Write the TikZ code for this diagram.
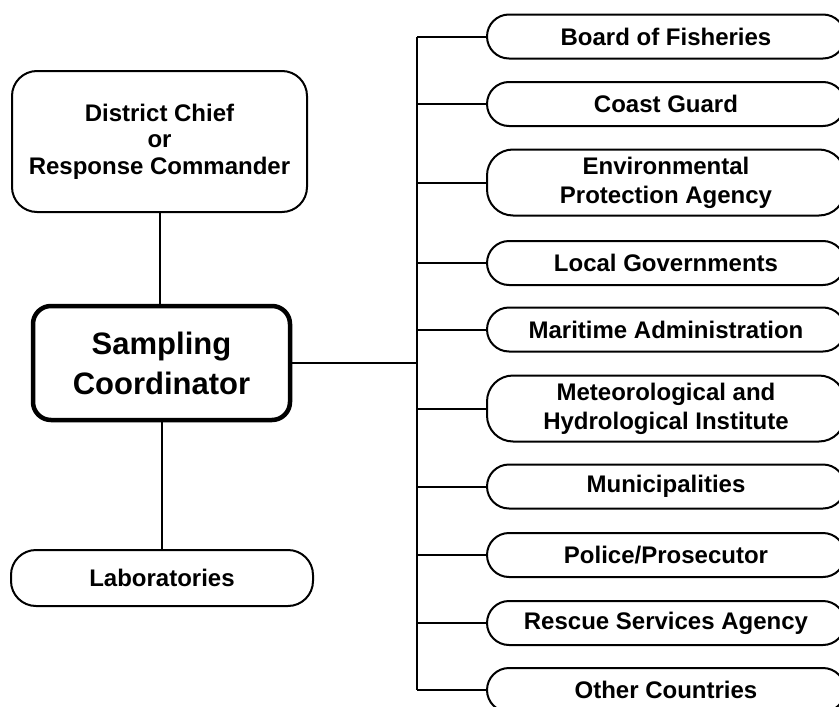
\documentclass[tikz,border=0pt]{standalone}
\usepackage{fontspec}
\setmainfont{Liberation Sans}
\begin{document}
\begin{tikzpicture}[x=1pt,y=-1pt,
  orgbox/.style={draw, line width=2pt, rounded corners=22pt, minimum width=358pt,
    minimum height=44pt, inner sep=0pt, align=center,
    font=\fontsize{24}{29}\selectfont\bfseries},
  orgtall/.style={orgbox, minimum height=66pt, rounded corners=26pt},
  leftbox/.style={draw, line width=2pt, inner sep=0pt, align=center,
    font=\fontsize{24}{26.5}\selectfont\bfseries},
  mainbox/.style={draw, line width=4.5pt, rounded corners=18pt, inner sep=0pt,
    align=center, minimum width=257pt, minimum height=114pt,
    font=\fontsize{31}{40}\selectfont\bfseries},
  link/.style={line width=2pt}]
\useasboundingbox (0,0) rectangle (839,707);
\clip (0,0) rectangle (839,707);

% left column
\node[leftbox, rounded corners=25pt, minimum width=295pt, minimum height=141pt]
  (dist) at (159.5,141.5) {District Chief\\or\\Response Commander};
\node[mainbox] (samp) at (161.5,363) {Sampling\\Coordinator};
\node[leftbox, rounded corners=25pt, minimum width=302pt, minimum height=56pt]
  (lab) at (162,578) {Laboratories};

% right column
\node[orgbox]  (b1)  at (666,36.5)  {Board of Fisheries};
\node[orgbox]  (b2)  at (666,104)   {Coast Guard};
\node[orgtall] (b3)  at (666,182.5) {Environmental\\Protection Agency};
\node[orgbox]  (b4)  at (666,263)   {Local Governments};
\node[orgbox]  (b5)  at (666,329.5) {Maritime Administration};
\node[orgtall] (b6)  at (666,408.5) {Meteorological and\\Hydrological Institute};
\node[orgbox]  (b7)  at (666,486.5) {Municipalities};
\node[orgbox]  (b8)  at (666,555)   {Police/Prosecutor};
\node[orgbox]  (b9)  at (666,623)   {Rescue Services Agency};
\node[orgbox]  (b10) at (666,690)   {Other Countries};

\coordinate (bus) at (417,363);

% connectors
\draw[link] (dist.south) -- (dist.south |- samp.north);
\draw[link] (lab.north) -- (lab.north |- samp.south);
\draw[link] (samp.east) -- (bus);
\draw[link] (bus |- b1.west) -- (bus |- b10.west);
\foreach \n in {b1,b2,b3,b4,b5,b6,b7,b8,b9,b10}
  \draw[link] (bus |- \n.west) -- (\n.west);
\end{tikzpicture}
\end{document}
